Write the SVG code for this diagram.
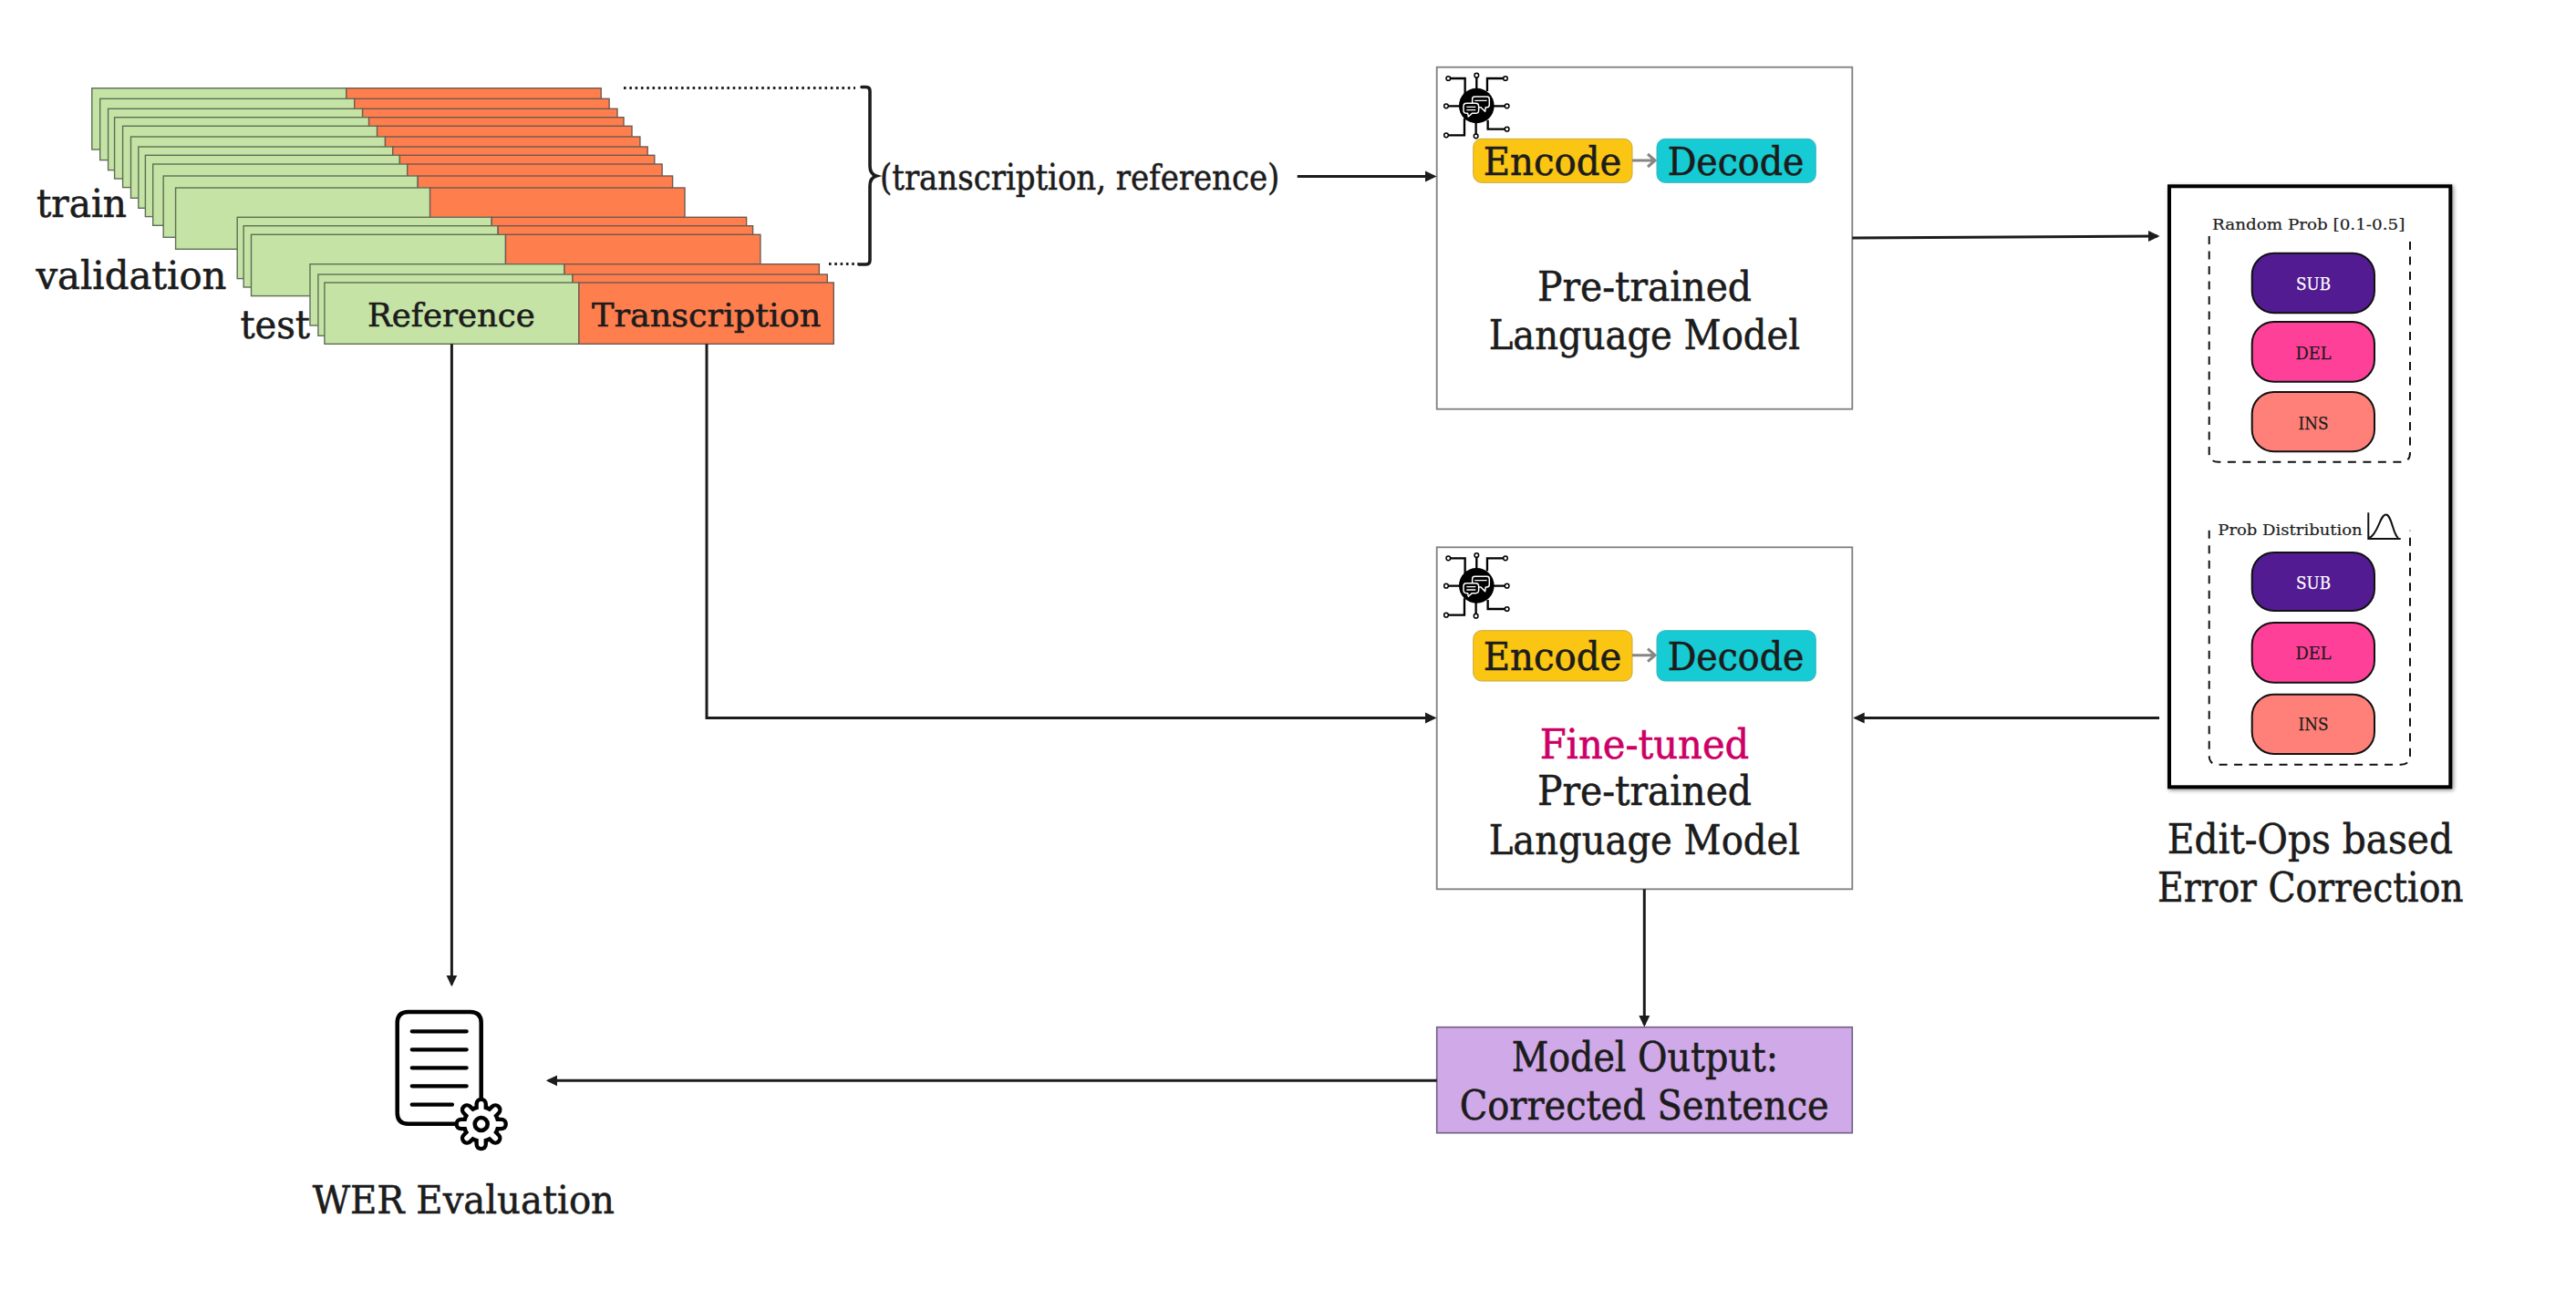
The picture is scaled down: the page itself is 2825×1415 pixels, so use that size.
<svg xmlns="http://www.w3.org/2000/svg" xmlns:xlink="http://www.w3.org/1999/xlink" width="2825" height="1415" viewBox="0 0 2825 1415">
<style>
text{font-family:"DejaVu Serif Condensed","DejaVu Serif",serif;font-stretch:condensed;fill:#1c1c1c;stroke:#1c1c1c;stroke-width:.55}
.c{text-anchor:middle}
.t44{font-size:44px}.t42{font-size:42px}.t36{font-size:36px}.t40{font-size:40px}
.g{fill:#c5e3a5;stroke:#5f6f55;stroke-width:1.4}
.o{fill:#ff7e4d;stroke:#6f5a50;stroke-width:1.4}
.box{fill:#fff;stroke:#7f7f7f;stroke-width:1.8}
.enc{fill:#fbc514;stroke:#c9a93a;stroke-width:1}
.dec{fill:#16cbd3;stroke:#3db5bb;stroke-width:1}
.lnk{fill:none;stroke:#1c1c1c;stroke-width:3;marker-end:url(#ah)}
.dot{fill:none;stroke:#222;stroke-width:3;stroke-dasharray:2.6 3.7}
.small{font-family:"DejaVu Serif","Liberation Serif",serif;font-stretch:normal;font-size:17px;fill:#222;stroke-width:.2}
.op{font-family:"DejaVu Serif","Liberation Serif",serif;font-stretch:normal;font-size:18px;text-anchor:middle;stroke-width:.25}
.pill{stroke:#111;stroke-width:2}
.dash{fill:none;stroke:#111;stroke-width:2;stroke-dasharray:9 7.5}
.ga{fill:none;stroke:#868686;stroke-width:3}
.ic{fill:none;stroke:#000;stroke-linecap:round;stroke-linejoin:round}
</style>
<defs>
<marker id="ah" markerUnits="userSpaceOnUse" markerWidth="15" markerHeight="14" refX="10" refY="6.5" orient="auto"><path d="M0,0.5 L12.5,6.5 L0,12.5 z" fill="#1c1c1c"/></marker>
<filter id="sh" x="-5%" y="-5%" width="110%" height="110%"><feDropShadow dx="1.5" dy="1.5" stdDeviation="2" flood-color="#000" flood-opacity=".45"/></filter>
<g id="chip" transform="scale(.3333) translate(-178,-168)">
<path d="M85,78 H140 V130 M178,68 V115 M273,78 H213 V120 M78,169 H125 M278,169 H232 M78,265 H138 V210 M176,268 V222 M278,245 H215 V215" fill="none" stroke="#000" stroke-width="7"/>
<g fill="#fff" stroke="#000" stroke-width="4.5"><circle cx="85" cy="78" r="7"/><circle cx="178" cy="68" r="7"/><circle cx="273" cy="78" r="7"/><circle cx="78" cy="169" r="7"/><circle cx="278" cy="169" r="7"/><circle cx="78" cy="265" r="7"/><circle cx="176" cy="268" r="7"/><circle cx="278" cy="245" r="7"/></g>
<circle cx="178" cy="168" r="58" fill="#000"/>
<g fill="#000" stroke="#fff" stroke-width="4.5" stroke-linejoin="round">
<path d="M172,138 H212 Q220,138 220,146 V165 Q220,173 212,173 H208 L206,187 L192,173 H172 Q164,173 164,165 V146 Q164,138 172,138 z"/>
<path d="M145,160 H175 Q185,160 185,170 V183 Q185,193 175,193 H163 L151,204 L149,193 H145 Q135,193 135,183 V170 Q135,160 145,160 z"/>
</g>
<path d="M172,151 H212 M145,172 H175 M145,182 H175" stroke="#fff" stroke-width="4" fill="none"/>
</g>
<line id="tk" x1="15" y1="0" x2="22" y2="0" stroke-linecap="round"/>
</defs>
<rect width="2825" height="1415" fill="#fff"/>

<g id="train-stack">
<rect class="g" x="100.8" y="96.7" width="279" height="67.3"/><rect class="o" x="379.8" y="96.7" width="279.4" height="67.3"/>
<rect class="g" x="109.7" y="108.3" width="279" height="67.3"/><rect class="o" x="388.7" y="108.3" width="279.4" height="67.3"/>
<rect class="g" x="118.6" y="119.3" width="279" height="67.3"/><rect class="o" x="397.6" y="119.3" width="279.4" height="67.3"/>
<rect class="g" x="125.6" y="128.7" width="279" height="67.3"/><rect class="o" x="404.6" y="128.7" width="279.4" height="67.3"/>
<rect class="g" x="134.6" y="138.3" width="279" height="67.3"/><rect class="o" x="413.6" y="138.3" width="279.4" height="67.3"/>
<rect class="g" x="143.5" y="150" width="279" height="67.3"/><rect class="o" x="422.5" y="150" width="279.4" height="67.3"/>
<rect class="g" x="151.8" y="161" width="279" height="67.3"/><rect class="o" x="430.8" y="161" width="279.4" height="67.3"/>
<rect class="g" x="159.4" y="170.3" width="279" height="67.3"/><rect class="o" x="438.4" y="170.3" width="279.4" height="67.3"/>
<rect class="g" x="167.7" y="180" width="279" height="67.3"/><rect class="o" x="446.7" y="180" width="279.4" height="67.3"/>
<rect class="g" x="179.2" y="193" width="279" height="67.3"/><rect class="o" x="458.2" y="193" width="279.4" height="67.3"/>
<rect class="g" x="192.6" y="206" width="279" height="67.3"/><rect class="o" x="471.6" y="206" width="279.4" height="67.3"/>
<text class="t42" x="40" y="238" textLength="99" lengthAdjust="spacingAndGlyphs">train</text>
</g>
<g id="validation-stack">
<rect class="g" x="260.2" y="238.3" width="279" height="67.3"/><rect class="o" x="539.2" y="238.3" width="279.4" height="67.3"/>
<rect class="g" x="267.2" y="247.7" width="279" height="67.3"/><rect class="o" x="546.2" y="247.7" width="279.4" height="67.3"/>
<rect class="g" x="275.5" y="257.3" width="279" height="67.3"/><rect class="o" x="554.5" y="257.3" width="279.4" height="67.3"/>
<text class="t42" x="39.5" y="316.5" textLength="209" lengthAdjust="spacingAndGlyphs">validation</text>
</g>
<g id="test-stack">
<rect class="g" x="340" y="289.7" width="279" height="67.3"/><rect class="o" x="619" y="289.7" width="279.4" height="67.3"/>
<rect class="g" x="348.9" y="301" width="279" height="67.3"/><rect class="o" x="627.9" y="301" width="279.4" height="67.3"/>
<rect class="g" x="355.9" y="310" width="279" height="67.3"/><rect class="o" x="634.9" y="310" width="279.4" height="67.3"/>
<text class="t42" x="263.4" y="371" textLength="76.5" lengthAdjust="spacingAndGlyphs">test</text>
<text class="t36" x="403" y="357.7" textLength="183.7" lengthAdjust="spacingAndGlyphs">Reference</text>
<text class="t36" x="649" y="357.7" textLength="251.3" lengthAdjust="spacingAndGlyphs">Transcription</text>
</g>

<g id="pair-brace">
<path class="dot" d="M684,96.5 H938"/>
<path class="dot" d="M909,289.5 H942"/>
<path d="M945,95.5 H950 Q954,95.5 954,100 V182 Q954,191 961,193 Q954,195 954,204 V285 Q954,290 950,290 H942" fill="none" stroke="#1c1c1c" stroke-width="3.6" stroke-linecap="round"/>
<text class="t40" x="965" y="207.7" textLength="438.3" lengthAdjust="spacingAndGlyphs">(transcription, reference)</text>
</g>

<g id="pretrained-model">
<rect class="box" x="1575.7" y="73.7" width="455.6" height="375"/>
<use xlink:href="#chip" href="#chip" x="1619.3" y="116"/>
<rect class="enc" x="1615.7" y="152.3" width="174.3" height="48" rx="9"/>
<rect class="dec" x="1817" y="152.3" width="174.3" height="48" rx="9"/>
<path class="ga" d="M1790,176 H1815 M1807,169 L1815,176 L1807,183"/>
<text class="t42" x="1626.7" y="192.3" textLength="151.6" lengthAdjust="spacingAndGlyphs">Encode</text>
<text class="t42" x="1828.7" y="192.3" textLength="149.6" lengthAdjust="spacingAndGlyphs">Decode</text>
<text class="t44" x="1686" y="330" textLength="235" lengthAdjust="spacingAndGlyphs">Pre-trained</text>
<text class="t44" x="1632.7" y="383.3" textLength="341.3" lengthAdjust="spacingAndGlyphs">Language Model</text>
</g>

<g id="finetuned-model">
<rect class="box" x="1575.7" y="600.3" width="455.6" height="375"/>
<use xlink:href="#chip" href="#chip" x="1619.3" y="642.3"/>
<rect class="enc" x="1615.7" y="691.7" width="174.3" height="55.3" rx="9"/>
<rect class="dec" x="1817" y="691.7" width="174.3" height="55.3" rx="9"/>
<path class="ga" d="M1790,718.7 H1815 M1807,711.7 L1815,718.7 L1807,725.7"/>
<text class="t42" x="1626.7" y="735" textLength="151.6" lengthAdjust="spacingAndGlyphs">Encode</text>
<text class="t42" x="1828.7" y="735" textLength="149.6" lengthAdjust="spacingAndGlyphs">Decode</text>
<text class="t44" x="1688.7" y="831.7" textLength="229.6" lengthAdjust="spacingAndGlyphs" style="fill:#cc0066;stroke:#cc0066">Fine-tuned</text>
<text class="t44" x="1686" y="883.3" textLength="235" lengthAdjust="spacingAndGlyphs">Pre-trained</text>
<text class="t44" x="1632.7" y="936.7" textLength="341.3" lengthAdjust="spacingAndGlyphs">Language Model</text>
</g>

<g id="error-correction">
<rect x="2379" y="204.3" width="308.3" height="659" fill="#fff" stroke="#000" stroke-width="4" filter="url(#sh)"/>
<text class="small" x="2426" y="252" textLength="211.3" lengthAdjust="spacingAndGlyphs">Random Prob [0.1-0.5]</text>
<path class="dash" d="M2422.7,259 V496.7 Q2422.7,506.7 2432.7,506.7 H2633 Q2643,506.7 2643,496.7 V259"/>
<rect class="pill" x="2469.7" y="277.7" width="134.3" height="65.6" rx="24" fill="#521b92"/>
<rect class="pill" x="2469.7" y="353" width="134.3" height="65.7" rx="24" fill="#ff4099"/>
<rect class="pill" x="2469.7" y="430" width="134.3" height="65.3" rx="24" fill="#ff8078"/>
<text class="op" x="2537" y="318.3" textLength="38" lengthAdjust="spacingAndGlyphs" style="fill:#fff;stroke:#fff">SUB</text>
<text class="op" x="2537" y="394.3" textLength="39" lengthAdjust="spacingAndGlyphs">DEL</text>
<text class="op" x="2537" y="470.7" textLength="33" lengthAdjust="spacingAndGlyphs">INS</text>
<text class="small" x="2432.3" y="586.7" textLength="158.4" lengthAdjust="spacingAndGlyphs">Prob Distribution</text>
<path d="M2597.3,562.3 V591 H2632.7 M2598.5,590 C2608,586 2610,564.5 2616.5,564.5 C2623,564.5 2624,586 2630,590" fill="none" stroke="#111" stroke-width="2"/>
<path class="dash" d="M2422.7,581.7 V828.7 Q2422.7,838.7 2432.7,838.7 H2633 Q2643,838.7 2643,828.7 V581.7"/>
<rect class="pill" x="2469.7" y="606" width="134.3" height="64" rx="24" fill="#521b92"/>
<rect class="pill" x="2469.7" y="683" width="134.3" height="65.7" rx="24" fill="#ff4099"/>
<rect class="pill" x="2469.7" y="761.7" width="134.3" height="65.3" rx="24" fill="#ff8078"/>
<text class="op" x="2537" y="646" textLength="38" lengthAdjust="spacingAndGlyphs" style="fill:#fff;stroke:#fff">SUB</text>
<text class="op" x="2537" y="723.3" textLength="39" lengthAdjust="spacingAndGlyphs">DEL</text>
<text class="op" x="2537" y="801" textLength="33" lengthAdjust="spacingAndGlyphs">INS</text>
<text class="t44" x="2376.7" y="936" textLength="313.3" lengthAdjust="spacingAndGlyphs">Edit-Ops based</text>
<text class="t44" x="2366" y="989.3" textLength="335.7" lengthAdjust="spacingAndGlyphs">Error Correction</text>
</g>

<g id="model-output">
<rect x="1575.7" y="1126.7" width="455.6" height="116" fill="#d0a9e8" stroke="#6f6080" stroke-width="1.6"/>
<text class="t44" x="1657.7" y="1175.3" textLength="292.3" lengthAdjust="spacingAndGlyphs">Model Output:</text>
<text class="t44" x="1600.7" y="1228.3" textLength="405" lengthAdjust="spacingAndGlyphs">Corrected Sentence</text>
</g>

<g id="wer-evaluation">
<path class="ic" stroke-width="4.5" d="M527.7,1207 V1122 Q527.7,1110 515.7,1110 H447.7 Q435.7,1110 435.7,1122 V1220.7 Q435.7,1232.7 447.7,1232.7 H500"/>
<path class="ic" stroke-width="4.2" d="M451.7,1131.3 H511.7 M451.7,1151.3 H511.7 M451.7,1171.3 H511.7 M451.7,1191.3 H511.7 M451.7,1211.7 H496"/>
<g transform="translate(527.7,1233)">
<g stroke="#000" stroke-width="14.5">
<use href="#tk"/><use href="#tk" transform="rotate(45)"/><use href="#tk" transform="rotate(90)"/><use href="#tk" transform="rotate(135)"/><use href="#tk" transform="rotate(180)"/><use href="#tk" transform="rotate(225)"/><use href="#tk" transform="rotate(270)"/><use href="#tk" transform="rotate(315)"/>
</g>
<circle r="21" fill="#000"/>
<circle r="16.5" fill="#fff"/>
<g stroke="#fff" stroke-width="5.8">
<use href="#tk"/><use href="#tk" transform="rotate(45)"/><use href="#tk" transform="rotate(90)"/><use href="#tk" transform="rotate(135)"/><use href="#tk" transform="rotate(180)"/><use href="#tk" transform="rotate(225)"/><use href="#tk" transform="rotate(270)"/><use href="#tk" transform="rotate(315)"/>
</g>
<circle r="7" fill="none" stroke="#000" stroke-width="4.6"/>
</g>
<text class="t42" x="342.7" y="1331" textLength="331.3" lengthAdjust="spacingAndGlyphs">WER Evaluation</text>
</g>

<g id="connectors">
<path class="lnk" d="M1422.7,193.5 H1573"/>
<path class="lnk" d="M2031.3,261 L2366,259"/>
<path class="lnk" d="M2368,787.4 H2034.7"/>
<path class="lnk" d="M775,377.3 V787.5 H1573"/>
<path class="lnk" d="M495.4,377.3 V1079.7"/>
<path class="lnk" d="M1803.3,975.3 V1124"/>
<path class="lnk" d="M1575.7,1185.3 H601.3"/>
</g>
</svg>
